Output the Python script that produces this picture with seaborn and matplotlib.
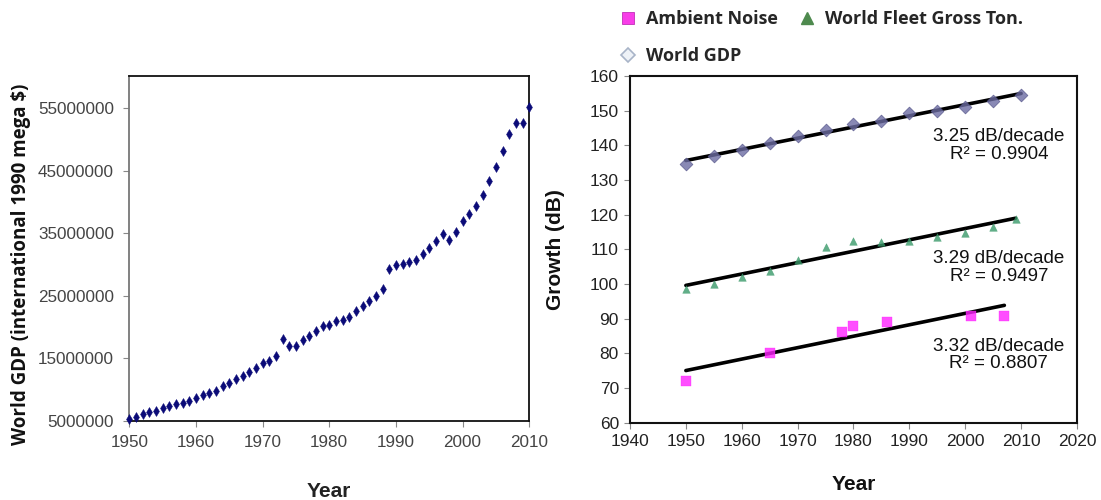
import numpy as np
import pandas as pd
import matplotlib
matplotlib.use("Agg")
import matplotlib.pyplot as plt
from matplotlib.lines import Line2D
from matplotlib.ticker import FuncFormatter
import seaborn as sns

# ---------------- data ----------------
gdp_years = list(range(1950, 2011))
gdp_values = [
    5270000, 5700000, 6070000, 6400000, 6550000, 7000000, 7350000, 7670000, 7830000, 8200000,
    8730000, 9100000, 9400000, 9850000, 10600000, 11100000, 11700000, 12200000, 12800000, 13500000,
    14200000, 14650000, 15400000, 18050000, 16900000, 17000000, 17900000, 18600000, 19400000, 20100000,
    20400000, 20900000, 21100000, 21600000, 22600000, 23400000, 24200000, 25000000, 26100000, 29200000,
    29900000, 30100000, 30400000, 30700000, 31600000, 32600000, 33700000, 34900000, 33900000, 35200000,
    36900000, 38100000, 39300000, 41100000, 43300000, 45500000, 48100000, 50900000, 52600000, 52600000,
    55200000,
]
left_yticks = [5000000, 15000000, 25000000, 35000000, 45000000, 55000000]
left_xticks = [1950, 1960, 1970, 1980, 1990, 2000, 2010]

gdp_db_years = [1950, 1955, 1960, 1965, 1970, 1975, 1980, 1985, 1990, 1995, 2000, 2005, 2010]
gdp_db = [134.5, 136.8, 138.7, 140.8, 142.7, 144.5, 146.1, 147.0, 149.2, 150.0, 151.0, 152.9, 154.6]

fleet_years = [1950, 1955, 1960, 1965, 1970, 1975, 1980, 1985, 1990, 1995, 2000, 2005, 2009]
fleet_db = [98.5, 100.0, 102.1, 103.8, 106.9, 110.6, 112.4, 112.2, 112.4, 113.7, 114.8, 116.5, 118.7]

noise_years = [1950, 1965, 1978, 1980, 1986, 2001, 2007]
noise_db = [72.0, 80.0, 86.1, 88.0, 89.0, 90.9, 90.9]

right_yticks = list(range(60, 161, 10))
right_xticks = list(range(1940, 2021, 10))

series_labels = ["Ambient Noise", "World Fleet Gross Ton.", "World GDP"]
fit_labels = ["3.25 dB/decade\nR² = 0.9904",
              "3.29 dB/decade\nR² = 0.9497",
              "3.32 dB/decade\nR² = 0.8807"]

# ---------------- style ----------------
sns.set_style("white")
plt.rcParams["font.family"] = ["Liberation Sans", "DejaVu Sans"]

fig = plt.figure(figsize=(11.01, 5.0), dpi=100)

# ---------------- left chart ----------------
axL = fig.add_axes([0.1174, 0.158, 0.3633, 0.690])
dfL = pd.DataFrame({"Year": gdp_years, "GDP": gdp_values})
sns.scatterplot(data=dfL, x="Year", y="GDP", ax=axL, marker="d", s=26,
                color="#0b0b78", edgecolor="#0b0b78", linewidth=0.3, zorder=3, clip_on=False)
axL.set_xlim(1950, 2010)
axL.set_ylim(5000000, 60100000)
axL.set_xticks(left_xticks)
axL.set_yticks(left_yticks)
axL.yaxis.set_major_formatter(FuncFormatter(lambda v, p: f"{int(v)}"))
for lab in axL.get_xticklabels() + axL.get_yticklabels():
    lab.set_fontsize(12.3)
    lab.set_color("#444444")
axL.tick_params(axis="both", which="both", direction="out", length=4, width=0.8,
                color="#888888", pad=7, left=True, bottom=True)
axL.tick_params(axis="x", pad=6)
for side in ["top", "right", "bottom"]:
    axL.spines[side].set_color("#111111")
    axL.spines[side].set_linewidth(1.3)
axL.spines["left"].set_color("#777777")
axL.spines["left"].set_linewidth(1.3)
axL.set_xlabel("Year", fontsize=15, fontweight="bold", color="#222222", labelpad=23)
axL.set_ylabel("World GDP (international 1990 mega $)", family=["Open Sans", "DejaVu Sans"],
               fontsize=13.5, fontweight="bold", color="#111111")
axL.yaxis.set_label_coords(-0.246, 0.455)

# ---------------- right chart ----------------
axR = fig.add_axes([0.5722, 0.1546, 0.4060, 0.6934])
line_kws = dict(color="black", linewidth=2.6, zorder=2)
sns.regplot(x=gdp_db_years, y=gdp_db, ax=axR, ci=None, truncate=True, marker="D",
            scatter_kws=dict(s=42, color="#6c6ca3", edgecolors="#58588c", linewidths=0.6, zorder=3),
            line_kws=line_kws)
sns.regplot(x=fleet_years, y=fleet_db, ax=axR, ci=None, truncate=True, marker="^",
            scatter_kws=dict(s=30, color="#3a9a6a", edgecolors="#3a9a6a", linewidths=0.3, zorder=3),
            line_kws=line_kws)
sns.regplot(x=noise_years, y=noise_db, ax=axR, ci=None, truncate=True, marker="s",
            scatter_kws=dict(s=42, color="#ff22ff", edgecolors="#ff22ff", linewidths=0.3, zorder=3),
            line_kws=line_kws)
axR.set_xlim(1940, 2020)
axR.set_ylim(60, 160)
axR.set_xticks(right_xticks)
axR.set_yticks(right_yticks)
for lab in axR.get_xticklabels() + axR.get_yticklabels():
    lab.set_fontsize(12.5)
    lab.set_color("#222222")
axR.tick_params(axis="both", direction="out", length=4, width=0.8, color="#888888", pad=4,
                left=True, bottom=True)
for s in axR.spines.values():
    s.set_color("#111111")
    s.set_linewidth(1.5)
axR.set_xlabel("Year", fontsize=15, fontweight="bold", color="#111111", labelpad=19)
axR.set_ylabel("Growth (dB)", fontsize=15, fontweight="bold", color="#111111", labelpad=18)

text_y = [0.80, 0.447, 0.195]
for lbl, ty in zip(fit_labels, text_y):
    axR.text(0.825, ty, lbl, transform=axR.transAxes, ha="center", va="center",
             multialignment="center", fontsize=13.5, color="#111111", linespacing=1.05)

handles = [
    Line2D([], [], linestyle="none", marker="s", markersize=9, markerfacecolor="#f83de8",
           markeredgecolor="#c030b8", markeredgewidth=0.6),
    Line2D([], [], linestyle="none", marker="^", markersize=9, markerfacecolor="#4e8a4e",
           markeredgecolor="#4e8a4e"),
    Line2D([], [], linestyle="none", marker="D", markersize=7, markerfacecolor="#eef2f7",
           markeredgecolor="#a8b4c8", markeredgewidth=1.2),
]
# column-major fill: column 1 = Ambient Noise, World GDP; column 2 = World Fleet
order = [0, 2, 1]
fig.legend([handles[i] for i in order], [series_labels[i] for i in order],
           loc="upper left", bbox_to_anchor=(0.562, 0.98),
           ncol=2, frameon=False, borderpad=0, borderaxespad=0, handlelength=1.0,
           handletextpad=0.5, columnspacing=1.1, labelspacing=1.05,
           prop=dict(family=["Open Sans", "DejaVu Sans"], weight="bold", size=13))

fig.savefig("out.png", dpi=100)
